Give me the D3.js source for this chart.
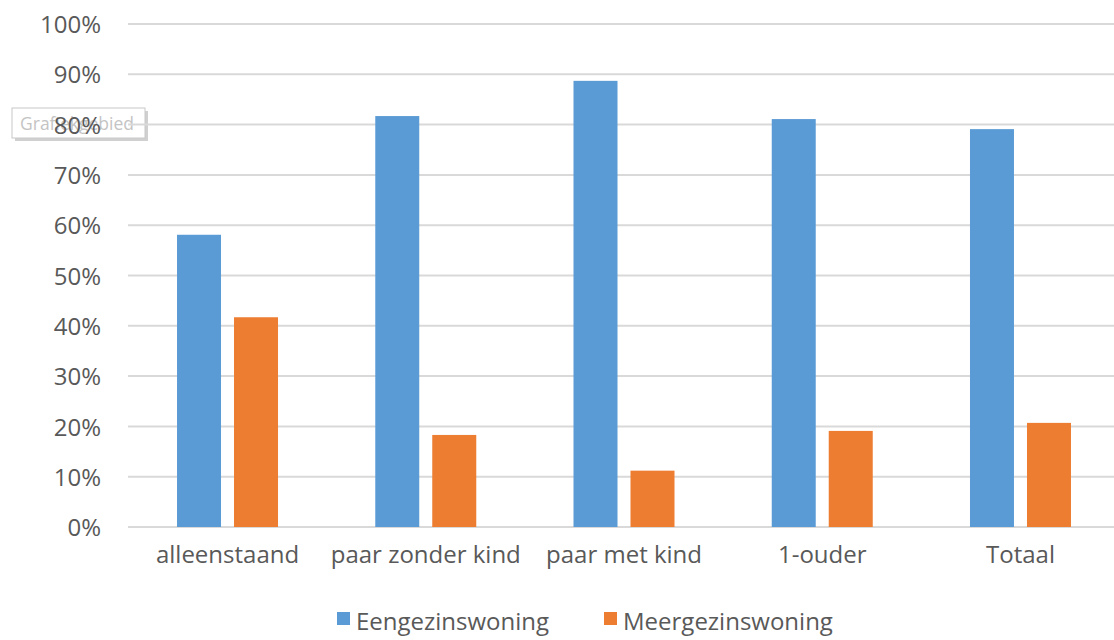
<!DOCTYPE html>
<html>
<head>
<meta charset="utf-8">
<script src="https://cdn.jsdelivr.net/npm/d3@7"></script>
<style>
  body { margin: 0; background: #fff; }
  svg text { font-family: "Open Sans", sans-serif; fill: #595959; }
</style>
</head>
<body>
<div id="chart"></div>
<script>
const categories = ['alleenstaand', 'paar zonder kind', 'paar met kind', '1-ouder', 'Totaal'];
const series = ['Eengezinswoning', 'Meergezinswoning'];
const eengezins = [0.581, 0.817, 0.887, 0.811, 0.791];
const meergezins = [0.417, 0.183, 0.112, 0.191, 0.207];
const yTicks = [0, 0.1, 0.2, 0.3, 0.4, 0.5, 0.6, 0.7, 0.8, 0.9, 1];

const width = 1114, height = 640;
const COLORS = { Eengezinswoning: '#5B9BD5', Meergezinswoning: '#ED7D31' };

const rows = categories.map((c, i) => ({ cat: c, Eengezinswoning: eengezins[i], Meergezinswoning: meergezins[i] }));

const svg = d3.select('#chart').append('svg')
  .attr('width', width)
  .attr('height', height);

const x = d3.scaleBand().domain(categories).range([128.4, 1119.6]);
const groupW = 101;
const xSub = d3.scaleBand()
  .domain(series)
  .range([(x.bandwidth() - groupW) / 2, (x.bandwidth() + groupW) / 2])
  .paddingInner(13 / 57);
const y = d3.scaleLinear().domain([0, 1]).range([527, 24]);

// tooltip "Grafiekgebied" overlay (behind the tick labels)
const tip = svg.append('g').attr('transform', 'translate(12,108)');
tip.append('rect').attr('x', 3).attr('y', 3).attr('width', 133).attr('height', 30)
  .attr('fill', '#b0b0b0').attr('opacity', 0.6);
tip.append('rect').attr('width', 133).attr('height', 30)
  .attr('fill', '#fff').attr('stroke', '#c8c8c8');
tip.append('text').attr('x', 8).attr('y', 22)
  .style('font-size', '17.5px').style('fill', '#c4c4c4')
  .text('Grafiekgebied');

// gridlines
svg.append('g')
  .selectAll('line')
  .data(yTicks)
  .enter()
  .append('line')
  .attr('x1', 128).attr('x2', width)
  .attr('y1', d => y(d)).attr('y2', d => y(d))
  .attr('stroke', '#d9d9d9')
  .attr('stroke-width', 2);

// y axis labels
svg.append('g')
  .attr('transform', 'translate(101,0)')
  .call(d3.axisLeft(y).tickValues(yTicks).tickFormat(d3.format('.0%')).tickSize(0).tickPadding(0))
  .call(g => g.select('.domain').remove())
  .call(g => g.selectAll('text').style('font-size', '24px').attr('fill', '#595959').attr('dy', '0.36em'));

// bars
svg.append('g')
  .selectAll('g')
  .data(rows)
  .enter()
  .append('g')
  .attr('transform', d => `translate(${x(d.cat)},0)`)
  .selectAll('rect')
  .data(d => series.map(key => ({ key: key, value: d[key] })))
  .enter()
  .append('rect')
  .attr('x', d => xSub(d.key))
  .attr('width', xSub.bandwidth())
  .attr('y', d => y(d.value))
  .attr('height', d => y(0) - y(d.value))
  .attr('fill', d => COLORS[d.key]);

// x axis labels
svg.append('g')
  .attr('transform', 'translate(0,563)')
  .call(d3.axisBottom(x).tickSize(0).tickPadding(0))
  .call(g => g.select('.domain').remove())
  .call(g => g.selectAll('text').style('font-size', '24px').attr('fill', '#595959').attr('dy', 0));

// legend
const legendX = { Eengezinswoning: 337, Meergezinswoning: 604 };
const legend = svg.append('g')
  .selectAll('g')
  .data(series)
  .enter()
  .append('g')
  .attr('transform', d => `translate(${legendX[d]},612)`);
legend.append('rect')
  .attr('width', 13).attr('height', 13)
  .attr('fill', d => COLORS[d]);
legend.append('text')
  .attr('x', 19).attr('y', 18)
  .style('font-size', '24px')
  .text(d => d);
</script>
</body>
</html>
